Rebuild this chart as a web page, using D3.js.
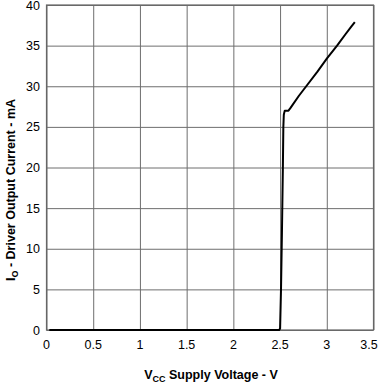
<!DOCTYPE html>
<html>
<head>
<meta charset="utf-8">
<script src="https://cdn.jsdelivr.net/npm/d3@7"></script>
<style>
  body { margin: 0; background: #fff; }
  text { font-family: "Liberation Sans", Arial, sans-serif; }
</style>
</head>
<body>
<svg id="chart" width="380" height="386"></svg>
<script>
// supply voltage (V) vs driver output current (mA)
var voltage = [0.03, 0.5, 1.0, 1.5, 2.0, 2.49, 2.5, 2.51, 2.52, 2.53, 2.535, 2.54, 2.55, 2.57, 2.59, 2.61, 2.7, 2.78, 2.9, 3.0, 3.11, 3.2, 3.26, 3.30];
var current = [0, 0, 0, 0, 0, 0, 0.2, 5, 12, 20, 25, 26.5, 27, 27, 27, 27.3, 28.8, 30, 31.8, 33.4, 35, 36.4, 37.3, 37.9];
var xTicks = [0, 0.5, 1, 1.5, 2, 2.5, 3, 3.5];
var yTicks = [0, 5, 10, 15, 20, 25, 30, 35, 40];

var svg = d3.select("#chart");
var mLeft = 46.5, mRight = 373.5, mTop = 5, mBottom = 330;

var x = d3.scaleLinear().domain([0, 3.5]).range([mLeft, mRight]);
var y = d3.scaleLinear().domain([0, 40]).range([mBottom, mTop]);

// grid
svg.append("g")
  .attr("transform", "translate(0," + mBottom + ")")
  .call(d3.axisBottom(x).tickValues(xTicks).tickSize(-(mBottom - mTop)).tickFormat(""))
  .call(function(g) { g.select(".domain").remove(); })
  .selectAll("line").attr("stroke", "#6e6e6e");

svg.append("g")
  .attr("transform", "translate(" + mLeft + ",0)")
  .call(d3.axisLeft(y).tickValues(yTicks).tickSize(-(mRight - mLeft)).tickFormat(""))
  .call(function(g) { g.select(".domain").remove(); })
  .selectAll("line").attr("stroke", "#6e6e6e");

svg.append("rect")
  .attr("x", mLeft).attr("y", mTop)
  .attr("width", mRight - mLeft).attr("height", mBottom - mTop)
  .attr("fill", "none").attr("stroke", "#666").attr("stroke-width", 1.2);

// tick labels
svg.append("g").selectAll("text").data(xTicks).enter().append("text")
  .attr("x", function(d) { return Math.min(x(d), 369); })
  .attr("y", 349)
  .attr("text-anchor", "middle")
  .attr("font-size", 12.5)
  .text(function(d) { return d; });

svg.append("g").selectAll("text").data(yTicks).enter().append("text")
  .attr("x", 40)
  .attr("y", function(d) { return y(d) + 4.5; })
  .attr("text-anchor", "end")
  .attr("font-size", 12.5)
  .text(function(d) { return d; });

// curve
var pts = voltage.map(function(v, i) { return [v, current[i]]; });
svg.append("path")
  .datum(pts)
  .attr("fill", "none")
  .attr("stroke", "#000")
  .attr("stroke-width", 2)
  .attr("stroke-linejoin", "round")
  .attr("d", d3.line().x(function(d) { return x(d[0]); }).y(function(d) { return y(d[1]); }));

// axis titles
var xt = svg.append("text")
  .attr("x", 211).attr("y", 379)
  .attr("text-anchor", "middle")
  .attr("font-size", 12.5).attr("font-weight", "bold");
xt.append("tspan").text("V");
xt.append("tspan").attr("font-size", 9).attr("dy", 3).text("CC");
xt.append("tspan").attr("dy", -3).text(" Supply Voltage - V");

var yt = svg.append("text")
  .attr("transform", "translate(15,190) rotate(-90)")
  .attr("text-anchor", "middle")
  .attr("font-size", 12.5).attr("font-weight", "bold");
yt.append("tspan").text("I");
yt.append("tspan").attr("font-size", 9).attr("dy", 3).text("O");
yt.append("tspan").attr("dy", -3).text(" - Driver Output Current - mA");
</script>
</body>
</html>
